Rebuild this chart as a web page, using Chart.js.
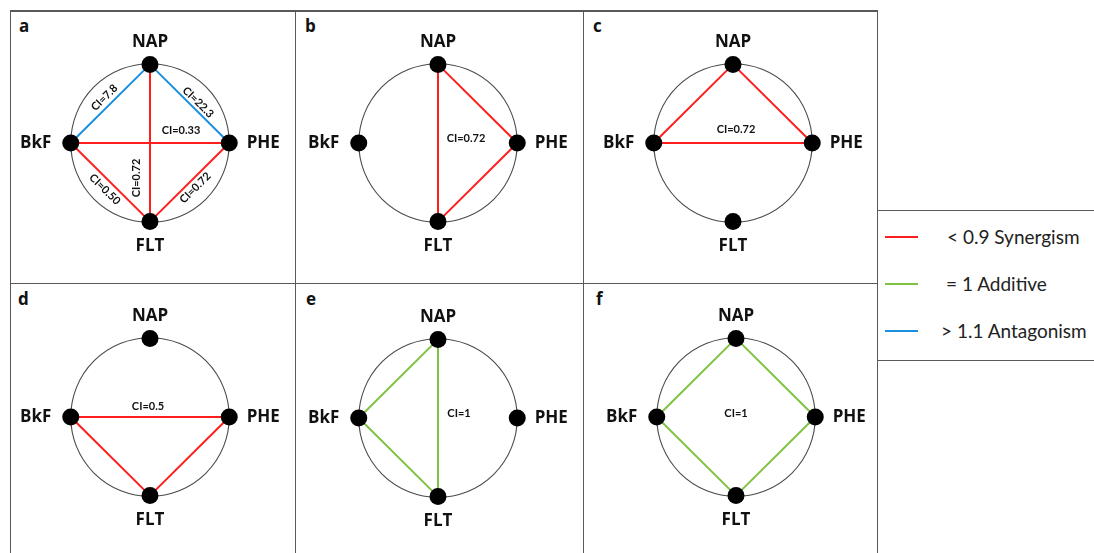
<!DOCTYPE html>
<html>
<head>
<meta charset="utf-8">
<script src="https://cdn.jsdelivr.net/npm/chart.js@4"></script>
<style>
  html, body { margin: 0; padding: 0; background: #fff; }
  #wrap { position: relative; width: 1094px; height: 553px; overflow: hidden; font-family: Lato, "Liberation Sans", sans-serif; }
  .rule { position: absolute; background: #595959; }
  .panel-canvas { position: absolute; }
  .letter { position: absolute; font-family: "Open Sans", Lato, sans-serif; font-weight: bold; font-size: 17px; line-height: 17px; color: #111; }
  .legend-row { position: absolute; left: 885px; height: 22px; }
  .legend-row .swatch { position: absolute; left: 0; top: 10px; width: 33px; height: 2px; }
  .legend-row .txt { position: absolute; top: 0; font-size: 19px; line-height: 22px; color: #222; white-space: nowrap; }
</style>
</head>
<body>
<div id="wrap"></div>
<script>
// Mixture nodes and their unit-circle positions
const NODE_NAMES = ['NAP', 'PHE', 'FLT', 'BkF'];
const NODE_X = [0, 1, 0, -1];
const NODE_Y = [1, 0, -1, 0];

// Panel letters
const PANEL_LETTERS = ['a', 'b', 'c', 'd', 'e', 'f'];

// Panel a: binary combinations, one CI per pair
const EDGES_A = [['NAP', 'BkF'], ['NAP', 'PHE'], ['BkF', 'PHE'], ['NAP', 'FLT'], ['BkF', 'FLT'], ['PHE', 'FLT']];
const CI_A = ['7.8', '22.3', '0.33', '0.72', '0.50', '0.72'];

// Panels b–f: ternary / quaternary combinations, one CI per mixture
const EDGES_B = [['NAP', 'PHE'], ['PHE', 'FLT'], ['NAP', 'FLT']];
const CI_B = '0.72';
const EDGES_C = [['NAP', 'BkF'], ['NAP', 'PHE'], ['BkF', 'PHE']];
const CI_C = '0.72';
const EDGES_D = [['BkF', 'PHE'], ['BkF', 'FLT'], ['PHE', 'FLT']];
const CI_D = '0.5';
const EDGES_E = [['NAP', 'BkF'], ['BkF', 'FLT'], ['NAP', 'FLT']];
const CI_E = '1';
const EDGES_F = [['NAP', 'BkF'], ['NAP', 'PHE'], ['BkF', 'FLT'], ['PHE', 'FLT']];
const CI_F = '1';

// Interaction classes
const CLASS_LABELS = ['< 0.9 Synergism', '= 1 Additive', '> 1.1 Antagonism'];
const CLASS_COLORS = ['#ff1e1e', '#7fc241', '#1a8fe0'];

// ---------- layout ----------
const RADIUS_PX = 84;            // circle radius in pixels
const CANVAS_W = 300, CANVAS_H = 264;
const PANEL_CENTERS = [[150, 143], [438, 143], [733, 143], [150, 417], [438, 418], [736, 417]];
const LETTER_POS = [[19, 17], [305, 17], [593, 17], [18, 290], [306, 290], [596, 290]];
// panel a label placement: [shift along edge, distance above edge] in px
const A_LABEL_PLACE = [[0, 8.5], [5, 7], [31, 13], [-35, 14], [1, -9], [0, -8]];
// panels b–f label offsets from the circle centre, px
const GROUP_LABEL_OFFSET = [[28, -5], [3, -14], [-2, -11], [21, -5], [0, -4]];
const NAME_OFFSET = { NAP: [0, -22], PHE: [34, 0], FLT: [0, 25], BkF: [-35, 0] };

function classOf(v) {
  if (v < 0.9) return 0;
  if (v <= 1.1) return 1;
  return 2;
}
function nodePoint(name) {
  const i = NODE_NAMES.indexOf(name);
  return { x: NODE_X[i], y: NODE_Y[i] };
}

const wrap = document.getElementById('wrap');

// frame rules
function rule(x, y, w, h) {
  const d = document.createElement('div');
  d.className = 'rule';
  Object.assign(d.style, { left: x + 'px', top: y + 'px', width: w + 'px', height: h + 'px' });
  wrap.appendChild(d);
}
rule(10, 10, 868, 1.5);       // top
rule(10, 282.5, 868, 1.5);    // row divider
rule(9.5, 10, 1.5, 543);      // left
rule(294.5, 10, 1.5, 543);
rule(582.5, 10, 1.5, 543);
rule(876.5, 10, 1.5, 543);    // right
rule(877, 209.5, 217, 1.5);   // legend box top
rule(877, 359.5, 217, 1.5);   // legend box bottom

// panel letters
PANEL_LETTERS.forEach((l, i) => {
  const d = document.createElement('div');
  d.className = 'letter';
  d.textContent = l;
  d.style.left = LETTER_POS[i][0] + 'px';
  d.style.top = LETTER_POS[i][1] + 'px';
  wrap.appendChild(d);
});

// legend
const LEGEND_Y = [226, 273, 320];
const LEGEND_TEXT_X = [62, 61, 56];
CLASS_LABELS.forEach((lab, i) => {
  const row = document.createElement('div');
  row.className = 'legend-row';
  row.style.top = LEGEND_Y[i] + 'px';
  const sw = document.createElement('div');
  sw.className = 'swatch';
  sw.style.background = CLASS_COLORS[i];
  const tx = document.createElement('div');
  tx.className = 'txt';
  tx.style.left = LEGEND_TEXT_X[i] + 'px';
  tx.textContent = lab;
  row.appendChild(sw);
  row.appendChild(tx);
  wrap.appendChild(row);
});

// circle, node names and CI labels
const diagramPlugin = {
  id: 'diagram',
  beforeDatasetsDraw(chart) {
    const { ctx, scales: { x, y } } = chart;
    const cx = x.getPixelForValue(0), cy = y.getPixelForValue(0);
    const r = x.getPixelForValue(1) - cx;
    ctx.save();
    ctx.beginPath();
    ctx.arc(cx, cy, r, 0, Math.PI * 2);
    ctx.strokeStyle = '#4a4a4a';
    ctx.lineWidth = 1.1;
    ctx.stroke();
    ctx.restore();
  },
  afterDatasetsDraw(chart) {
    const { ctx, scales: { x, y } } = chart;
    const o = chart.options.plugins.diagram;
    const cx = x.getPixelForValue(0), cy = y.getPixelForValue(0);
    ctx.save();
    ctx.fillStyle = '#111';
    ctx.textAlign = 'center';
    ctx.textBaseline = 'middle';
    ctx.font = 'bold 17px "Open Sans", Lato, sans-serif';
    NODE_NAMES.forEach((n, i) => {
      const px = x.getPixelForValue(NODE_X[i]) + NAME_OFFSET[n][0];
      const py = y.getPixelForValue(NODE_Y[i]) + NAME_OFFSET[n][1];
      ctx.fillText(n, px, py);
    });
    ctx.font = 'bold 11px Lato, "Liberation Sans", sans-serif';
    if (o.edgeLabels) {
      o.edges.forEach((e, k) => {
        const a = nodePoint(e[0]), b = nodePoint(e[1]);
        const ax = x.getPixelForValue(a.x), ay = y.getPixelForValue(a.y);
        const bx = x.getPixelForValue(b.x), by = y.getPixelForValue(b.y);
        let th = Math.atan2(by - ay, bx - ax);
        if (th > Math.PI / 2 - 1e-6) th -= Math.PI;
        if (th < -Math.PI / 2 - 1e-6) th += Math.PI;
        const [along, side] = A_LABEL_PLACE[k];
        const mx = (ax + bx) / 2 + along * Math.cos(th) + side * Math.sin(th);
        const my = (ay + by) / 2 + along * Math.sin(th) - side * Math.cos(th);
        ctx.save();
        ctx.translate(mx, my);
        ctx.rotate(th);
        ctx.fillText('CI=' + o.ci[k], 0, 0);
        ctx.restore();
      });
    } else {
      ctx.fillText('CI=' + o.ci, cx + o.offset[0], cy + o.offset[1]);
    }
    ctx.restore();
  }
};

function makePanel(idx, edges, ci) {
  const [pcx, pcy] = PANEL_CENTERS[idx];
  const canvas = document.createElement('canvas');
  canvas.className = 'panel-canvas';
  canvas.width = CANVAS_W;
  canvas.height = CANVAS_H;
  canvas.style.width = CANVAS_W + 'px';
  canvas.style.height = CANVAS_H + 'px';
  canvas.style.left = (pcx - CANVAS_W / 2) + 'px';
  canvas.style.top = (pcy - CANVAS_H / 2) + 'px';
  wrap.appendChild(canvas);

  const perEdge = Array.isArray(ci);
  const datasets = [{
    label: 'nodes',
    data: NODE_NAMES.map((n, i) => ({ x: NODE_X[i], y: NODE_Y[i] })),
    showLine: false,
    pointRadius: 8.5,
    pointBackgroundColor: '#000',
    pointBorderWidth: 0,
    order: 0
  }];
  edges.forEach((e, k) => {
    const v = parseFloat(perEdge ? ci[k] : ci);
    datasets.push({
      label: e.join('-'),
      data: [nodePoint(e[0]), nodePoint(e[1])],
      showLine: true,
      borderColor: CLASS_COLORS[classOf(v)],
      borderWidth: 2,
      pointRadius: 0,
      order: 1
    });
  });
  const hx = CANVAS_W / 2 / RADIUS_PX, hy = CANVAS_H / 2 / RADIUS_PX;
  new Chart(canvas, {
    type: 'scatter',
    data: { datasets },
    options: {
      responsive: false,
      animation: false,
      devicePixelRatio: 1,
      layout: { padding: 0 },
      scales: {
        x: { type: 'linear', display: false, min: -hx, max: hx },
        y: { type: 'linear', display: false, min: -hy, max: hy }
      },
      plugins: {
        legend: { display: false },
        tooltip: { enabled: false },
        diagram: {
          edgeLabels: perEdge,
          edges,
          ci,
          offset: perEdge ? null : GROUP_LABEL_OFFSET[idx - 1]
        }
      }
    },
    plugins: [diagramPlugin]
  });
}

makePanel(0, EDGES_A, CI_A);
makePanel(1, EDGES_B, CI_B);
makePanel(2, EDGES_C, CI_C);
makePanel(3, EDGES_D, CI_D);
makePanel(4, EDGES_E, CI_E);
makePanel(5, EDGES_F, CI_F);
</script>
</body>
</html>
